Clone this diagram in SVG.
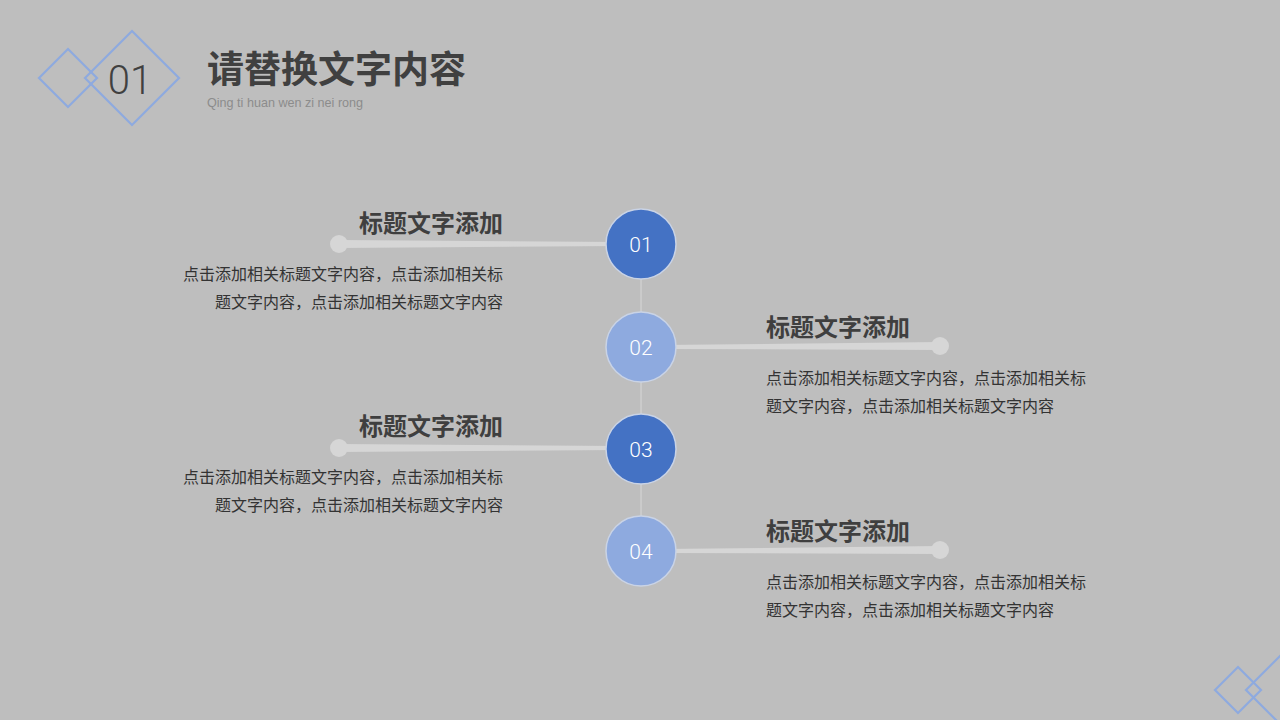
<svg xmlns="http://www.w3.org/2000/svg" width="1280" height="720" viewBox="0 0 1280 720">
<style>
.dia{fill:none;stroke:#8eaadf;stroke-width:2.2}
.ttl{font-family:"Noto Sans CJK SC","Liberation Sans",sans-serif;font-weight:700;font-size:24px;fill:#3f3f3f}
.body{font-family:"Noto Sans CJK SC","Liberation Sans",sans-serif;font-size:16px;fill:#333333}
.num{font-family:Roboto,"Liberation Sans",sans-serif;font-weight:300;font-size:21px;fill:#ffffff}
.dark{fill:#4472c4;stroke:#c9d3e6;stroke-width:1.5}
.light{fill:#8eaadf;stroke:#c9d3e6;stroke-width:1.5}
.conn{fill:#d6d6d6}
</style>
<rect width="1280" height="720" fill="#bebebe"/>
<g id="header">
<polygon class="dia" points="39,78 68,49 97,78 68,107"/>
<polygon class="dia" points="85,78 132,31 179,78 132,125"/>
<text x="130" y="94" text-anchor="middle" font-family="Roboto,'Liberation Sans',sans-serif" font-weight="300" font-size="40" fill="#404040">01</text>
<text x="207" y="83" font-family="'Noto Sans CJK SC','Liberation Sans',sans-serif" font-weight="700" font-size="37" fill="#404040">请替换文字内容</text>
<text x="207" y="107" font-family="'Liberation Sans',sans-serif" font-size="12.6" fill="#8c8c8c">Qing ti huan wen zi nei rong</text>
</g>
<g id="corner">
<polygon class="dia" points="1215,690 1238,667 1261,690 1238,713"/>
<polygon class="dia" points="1246,690 1290,646 1334,690 1290,734"/>
</g>
<g id="connectors">
<line x1="641" y1="244" x2="641" y2="551" stroke="#d3d3d3" stroke-width="1.2"/>
<polygon class="conn" points="339,240 620,242 620,246 339,248"/>
<circle class="conn" cx="339" cy="244" r="9"/>
<polygon class="conn" points="660,345 940,342 940,350 660,349"/>
<circle class="conn" cx="940" cy="346" r="9"/>
<polygon class="conn" points="339,444 620,446 620,450 339,452"/>
<circle class="conn" cx="339" cy="448" r="9"/>
<polygon class="conn" points="660,549 940,546 940,554 660,553"/>
<circle class="conn" cx="940" cy="550" r="9"/>
</g>
<g id="node1">
<circle class="dark" cx="641" cy="244" r="35"/>
<text class="num" x="641" y="252" text-anchor="middle">01</text>
<text class="ttl" x="503" y="232" text-anchor="end">标题文字添加</text>
<text class="body" x="503" y="280" text-anchor="end">点击添加相关标题文字内容，点击添加相关标</text>
<text class="body" x="503" y="308" text-anchor="end">题文字内容，点击添加相关标题文字内容</text>
</g>
<g id="node2">
<circle class="light" cx="641" cy="347" r="35"/>
<text class="num" x="641" y="355" text-anchor="middle">02</text>
<text class="ttl" x="766" y="336">标题文字添加</text>
<text class="body" x="766" y="384">点击添加相关标题文字内容，点击添加相关标</text>
<text class="body" x="766" y="412">题文字内容，点击添加相关标题文字内容</text>
</g>
<g id="node3">
<circle class="dark" cx="641" cy="449" r="35"/>
<text class="num" x="641" y="457" text-anchor="middle">03</text>
<text class="ttl" x="503" y="435" text-anchor="end">标题文字添加</text>
<text class="body" x="503" y="483" text-anchor="end">点击添加相关标题文字内容，点击添加相关标</text>
<text class="body" x="503" y="511" text-anchor="end">题文字内容，点击添加相关标题文字内容</text>
</g>
<g id="node4">
<circle class="light" cx="641" cy="551" r="35"/>
<text class="num" x="641" y="559" text-anchor="middle">04</text>
<text class="ttl" x="766" y="540">标题文字添加</text>
<text class="body" x="766" y="588">点击添加相关标题文字内容，点击添加相关标</text>
<text class="body" x="766" y="616">题文字内容，点击添加相关标题文字内容</text>
</g>
</svg>
